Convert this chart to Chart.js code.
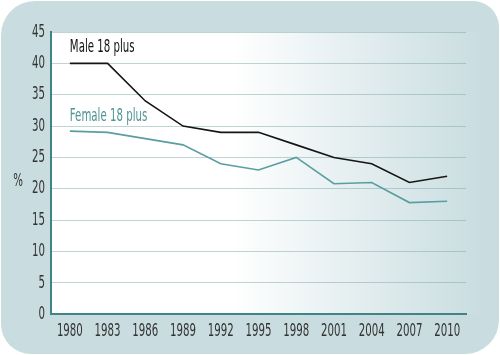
<!DOCTYPE html>
<html><head><meta charset="utf-8">
<script src="https://cdn.jsdelivr.net/npm/chart.js@4"></script>
<style>html,body{margin:0;padding:0;background:#fff;}canvas{display:block;}</style>
</head><body>
<canvas id="c" width="500" height="355"></canvas>
<script>
const years = ['1980','1983','1986','1989','1992','1995','1998','2001','2004','2007','2010'];
const male = [40,40,34,30,29,29,27,25,24,21,22];
const female = [29.2,29,28,27,24,23,25,20.8,21,17.8,18];
const yTicks = [0,5,10,15,20,25,30,35,40,45];
const maleLabel = 'Male 18 plus';
const femaleLabel = 'Female 18 plus';
const yTitle = '%';

const FONT = '"DejaVu Sans Condensed","DejaVu Sans",sans-serif';
const BG = '#c9dde0';
const SX = 0.63;

function narrowText(ctx, text, x, y, align, size, color) {
  ctx.save();
  ctx.translate(x, y);
  ctx.scale(SX, 1);
  ctx.font = size + 'px ' + FONT;
  ctx.textAlign = align;
  ctx.textBaseline = 'middle';
  ctx.fillStyle = color;
  ctx.fillText(text, 0, 0);
  ctx.restore();
}

const bgPlugin = {
  id: 'bg',
  beforeDraw(chart) {
    const ctx = chart.ctx, w = chart.width, h = chart.height;
    ctx.save();
    ctx.fillStyle = '#ffffff';
    ctx.fillRect(0,0,w,h);
    ctx.fillStyle = BG;
    ctx.beginPath();
    ctx.roundRect(1,1,w-2,h-2,[34,26,34,30]);
    ctx.fill();
    const a = chart.chartArea;
    const g = ctx.createLinearGradient(a.left,0,a.right+15,0);
    g.addColorStop(0,'#ffffff');
    g.addColorStop(0.42,'#ffffff');
    g.addColorStop(1,BG);
    ctx.fillStyle = g;
    ctx.fillRect(a.left, a.top, a.right - a.left + 20, a.bottom - a.top);
    ctx.restore();
  },
  afterDraw(chart) {
    const ctx = chart.ctx, x = chart.scales.x, y = chart.scales.y;
    x.ticks.forEach((t, i) => {
      narrowText(ctx, String(x.getLabelForValue(t.value)), x.getPixelForTick(i), x.top + 17, 'center', 18, '#333');
    });
    y.ticks.forEach((t, i) => {
      narrowText(ctx, String(t.value), 45, y.getPixelForValue(t.value), 'right', 18, '#333');
    });
    narrowText(ctx, maleLabel, x.getPixelForValue(0), y.getPixelForValue(42.6), 'left', 18, '#111');
    narrowText(ctx, femaleLabel, x.getPixelForValue(0), y.getPixelForValue(31.6), 'left', 18, '#4f9396');
    narrowText(ctx, yTitle, 18, y.getPixelForValue(21.2), 'center', 18, '#333');
  }
};

new Chart(document.getElementById('c'), {
  type: 'line',
  data: {
    labels: years,
    datasets: [
      {label: maleLabel, data: male, borderColor: '#151515', borderWidth: 1.6, pointRadius: 0, tension: 0, fill: false},
      {label: femaleLabel, data: female, borderColor: '#5a9ea1', borderWidth: 1.6, pointRadius: 0, tension: 0, fill: false}
    ]
  },
  plugins: [bgPlugin],
  options: {
    responsive: false,
    animation: false,
    events: [],
    layout: {padding: {left: 0, right: 34, top: 32, bottom: 8}},
    plugins: {legend: {display: false}, tooltip: {enabled: false}},
    scales: {
      x: {
        offset: true,
        grid: {display: false, drawTicks: false},
        border: {display: true, color: '#3f8585', width: 2},
        ticks: {color: 'rgba(0,0,0,0)', font: {family: FONT, size: 14}, padding: 8, maxRotation: 0, autoSkip: false}
      },
      y: {
        min: 0, max: 45,
        afterBuildTicks(s) { s.ticks = yTicks.map(v => ({value: v})); },
        afterFit(s) { s.width = 51; },
        grid: {color: 'rgba(130,168,172,0.5)', lineWidth: 1, drawTicks: false},
        border: {display: true, color: '#3f8585', width: 2},
        ticks: {color: 'rgba(0,0,0,0)', font: {family: FONT, size: 14}, padding: 7}
      }
    }
  }
});
</script>
</body></html>
